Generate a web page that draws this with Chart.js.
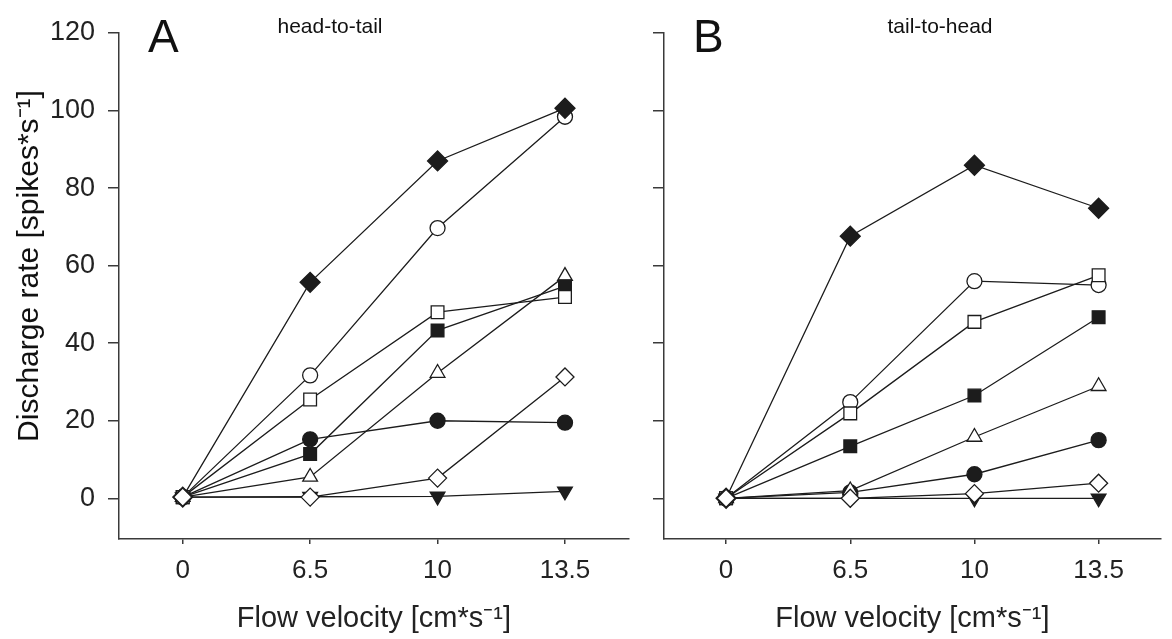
<!DOCTYPE html>
<html>
<head>
<meta charset="utf-8">
<script src="https://cdn.jsdelivr.net/npm/chart.js@4"></script>
<style>
  html, body { margin: 0; padding: 0; background: #fff; }
  #wrap { position: relative; width: 1172px; height: 639px; overflow: hidden; }
  canvas { position: absolute; top: 0; }
  #chartA { left: 0; }
  #chartB { left: 640px; }
</style>
</head>
<body>
<div id="wrap">
  <canvas id="chartA" width="640" height="639"></canvas>
  <canvas id="chartB" width="532" height="639"></canvas>
</div>
<script>
const velocities = ["0", "6.5", "10", "13.5"];
const rateTicks = [0, 20, 40, 60, 80, 100, 120];

// head-to-tail
const htFilledDiamond = [0.3, 55.7, 87, 100.6];
const htOpenCircle = [0.3, 31.7, 69.7, 98.4];
const htOpenSquare = [0.3, 25.5, 48, 51.9];
const htFilledSquare = [0.3, 11.4, 43.3, 54.7];
const htOpenTriangle = [0.3, 5.5, 32.3, 57.3];
const htFilledCircle = [0.3, 15.2, 20, 19.5];
const htOpenDiamond = [0.3, 0.3, 5.2, 31.3];
const htDownTriangle = [0.3, 0.4, 0.5, 1.8];

// tail-to-head
const thFilledDiamond = [0, 67.6, 85.9, 74.8];
const thOpenCircle = [0, 24.8, 56, 55];
const thOpenSquare = [0, 21.9, 45.5, 57.5];
const thFilledSquare = [0, 13.4, 26.5, 46.7];
const thOpenTriangle = [0, 2, 15.8, 28.9];
const thFilledCircle = [0, 1.5, 6.2, 15];
const thOpenDiamond = [0, 0, 1.2, 3.9];
const thDownTriangle = [0, 0, 0, 0];

const INK = "#1c1c1c";
const AXIS = "#3a3a3a";
const FONT = "'Liberation Sans', Arial, Helvetica, sans-serif";

function series(values, style, open, radius, rotation) {
  return {
    data: values.map((v, i) => ({ x: i, y: v })),
    borderColor: INK,
    borderWidth: 1.3,
    pointStyle: style,
    pointRotation: rotation || 0,
    pointRadius: radius,
    pointHoverRadius: radius,
    pointBackgroundColor: open ? "#fff" : INK,
    pointBorderColor: INK,
    pointBorderWidth: 1.3,
    fill: false,
    tension: 0
  };
}

function buildSets(s) {
  // first entry is painted last, so it ends up on top
  return [
    series(s.openDiamond, "rectRot", true, 9),
    series(s.filledDiamond, "rectRot", false, 10),
    series(s.openSquare, "rect", true, 9),
    series(s.filledSquare, "rect", false, 9),
    series(s.openTriangle, "triangle", true, 8.5),
    series(s.openCircle, "circle", true, 7.5),
    series(s.filledCircle, "circle", false, 7.5),
    series(s.downTriangle, "triangle", false, 8.5, 180)
  ];
}

const panelText = {
  id: "panelText",
  afterDraw(chart, args, opts) {
    const ctx = chart.ctx;
    ctx.save();
    ctx.fillStyle = "#111";
    ctx.textBaseline = "alphabetic";
    ctx.textAlign = "left";
    ctx.font = "46px " + FONT;
    ctx.fillText(opts.letter, opts.letterX, 52);
    ctx.textAlign = "center";
    ctx.font = "21px " + FONT;
    ctx.fillText(opts.subtitle, opts.subX, 33);
    if (opts.yTitle) {
      ctx.translate(30, 266);
      ctx.rotate(-Math.PI / 2);
      ctx.textBaseline = "middle";
      ctx.font = "30px " + FONT;
      ctx.fillText(opts.yTitle, 0, 0);
    }
    ctx.restore();
  }
};

function makeChart(id, sets, showLabels, yWidth, padRight, text) {
  return new Chart(document.getElementById(id), {
    type: "line",
    data: { datasets: buildSets(sets) },
    plugins: [panelText],
    options: {
      responsive: false,
      animation: false,
      layout: { padding: { left: 0, top: 33, right: padRight, bottom: 0 } },
      plugins: {
        legend: { display: false },
        tooltip: { enabled: false },
        panelText: text
      },
      scales: {
        x: {
          type: "linear",
          min: -0.5,
          max: 3.5,
          afterBuildTicks: s => { s.ticks = velocities.map((_, i) => ({ value: i })); },
          afterFit: s => { s.height = 100; },
          ticks: {
            callback: v => velocities[v],
            font: { family: FONT, size: 26 },
            color: "#222",
            padding: 11,
            maxRotation: 0
          },
          grid: { drawOnChartArea: false, tickLength: 5, color: AXIS, lineWidth: 1.5 },
          border: { color: AXIS, width: 1.5 },
          title: {
            display: true,
            text: "Flow velocity [cm*s\u207B\u00B9]",
            font: { family: FONT, size: 29 },
            color: "#222",
            padding: { top: 0, bottom: 3 }
          }
        },
        y: {
          min: -10.5,
          max: 120,
          afterBuildTicks: s => { s.ticks = rateTicks.map(v => ({ value: v })); },
          afterFit: s => { s.width = yWidth; },
          ticks: {
            display: showLabels,
            font: { family: FONT, size: 27 },
            color: "#222",
            padding: 13
          },
          grid: { drawOnChartArea: false, tickLength: 11, color: AXIS, lineWidth: 1.5 },
          border: { color: AXIS, width: 1.5 }
        }
      }
    }
  });
}

makeChart("chartA", {
  filledDiamond: htFilledDiamond, openCircle: htOpenCircle, openSquare: htOpenSquare,
  filledSquare: htFilledSquare, openTriangle: htOpenTriangle, filledCircle: htFilledCircle,
  openDiamond: htOpenDiamond, downTriangle: htDownTriangle
}, true, 119, 11, {
  letter: "A", letterX: 148, subtitle: "head-to-tail", subX: 330,
  yTitle: "Discharge rate [spikes*s\u207B\u00B9]"
});

makeChart("chartB", {
  filledDiamond: thFilledDiamond, openCircle: thOpenCircle, openSquare: thOpenSquare,
  filledSquare: thFilledSquare, openTriangle: thOpenTriangle, filledCircle: thFilledCircle,
  openDiamond: thOpenDiamond, downTriangle: thDownTriangle
}, false, 24, 0, {
  letter: "B", letterX: 53, subtitle: "tail-to-head", subX: 300
});
</script>
</body>
</html>
